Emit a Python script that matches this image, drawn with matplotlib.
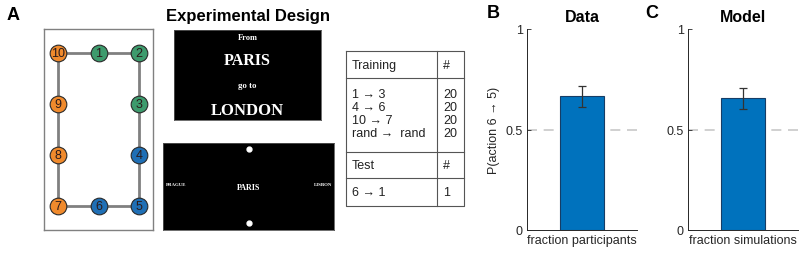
import matplotlib
matplotlib.use("Agg")
import matplotlib.pyplot as plt

plt.rcParams['font.family'] = ['Liberation Sans', 'DejaVu Sans']

# ---------------- data ----------------
node_ids = [1, 2, 3, 4, 5, 6, 7, 8, 9, 10]
node_groups = ['g', 'g', 'g', 'b', 'b', 'b', 'o', 'o', 'o', 'o']
# grid (column, row) of each state in the ring
node_cols = [1, 2, 2, 2, 2, 1, 0, 0, 0, 0]
node_rows = [0, 0, 1, 2, 3, 3, 3, 2, 1, 0]
ring_order = [10, 1, 2, 3, 4, 5, 6, 7, 8, 9, 10]

train_rows = ["1 \u2192 3", "4 \u2192 6", "10 \u2192 7", "rand \u2192  rand"]
train_counts = ["20", "20", "20", "20"]
test_rows = ["6 \u2192 1"]
test_counts = ["1"]

bar_titles = ["Data", "Model"]
bar_labels = ["fraction participants", "fraction simulations"]
bar_values = [0.667, 0.657]
err_low = [0.612, 0.602]
err_high = [0.716, 0.706]
chance = 0.5
yticks = [0, 0.5, 1]
ytick_labels = ["0", "0.5", "1"]

group_colors = {'g': '#3d9b6d', 'b': '#1f6fb5', 'o': '#f08a2c'}

W, H = 800, 255
fig = plt.figure(figsize=(W / 100, H / 100), dpi=100)


def px_axes(x0, y0, x1, y1):
    return fig.add_axes([x0 / W, 1 - y1 / H, (x1 - x0) / W, (y1 - y0) / H])


# ---------------- panel A: graph ----------------
axg = px_axes(44, 30, 153, 231)
axg.set_xlim(-0.35, 2.35)
axg.set_ylim(3.47, -0.47)
axg.set_xticks([])
axg.set_yticks([])
for s in axg.spines.values():
    s.set_color('#808080')
    s.set_linewidth(1.0)
pos = {n: (c, r) for n, c, r in zip(node_ids, node_cols, node_rows)}
axg.plot([pos[n][0] for n in ring_order], [pos[n][1] for n in ring_order],
         color='#808080', lw=2.0, zorder=1)
for n, g in zip(node_ids, node_groups):
    x, y = pos[n]
    axg.plot(x, y, 'o', ms=12, mfc=group_colors[g], mec='#2a2a2a', mew=0.8, zorder=2)
    axg.text(x, y, str(n), ha='center', va='center', fontsize=9,
             color='#2a1a1a', zorder=3)

fig.text(7 / W, 1 - 15 / H, "A", fontsize=13, fontweight='bold', va='center', ha='left')
fig.text(248 / W, 1 - 17 / H, "Experimental Design", fontsize=12,
         fontweight='bold', ha='center', va='center')

# ---------------- screens ----------------
serif = ['Liberation Serif', 'DejaVu Serif']
ax1 = px_axes(174, 31, 321, 121)
ax1.set_facecolor('black')
ax1.set_xticks([]); ax1.set_yticks([])
for s in ax1.spines.values():
    s.set_color('#555555'); s.set_linewidth(0.6)
ax1.text(0.5, 0.925, "From", color='white', family=serif, fontweight='bold',
         fontsize=6, ha='center', va='center', transform=ax1.transAxes)
ax1.text(0.5, 0.665, "PARIS", color='white', family=serif, fontweight='bold',
         fontsize=11.5, ha='center', va='center', transform=ax1.transAxes)
ax1.text(0.5, 0.385, "go to", color='white', family=serif, fontweight='bold',
         fontsize=6.3, ha='center', va='center', transform=ax1.transAxes)
ax1.text(0.5, 0.115, "LONDON", color='white', family=serif, fontweight='bold',
         fontsize=12, ha='center', va='center', transform=ax1.transAxes)

ax2 = px_axes(163, 144, 334, 231)
ax2.set_facecolor('black')
ax2.set_xlim(0, 1); ax2.set_ylim(0, 1)
ax2.set_xticks([]); ax2.set_yticks([])
for s in ax2.spines.values():
    s.set_color('#555555'); s.set_linewidth(0.6)
ax2.plot([0.5, 0.5], [0.93, 0.08], 'o', color='white', ms=3.5, ls='none')
ax2.text(0.5, 0.5, "PARIS", color='white', family=serif, fontweight='bold',
         fontsize=5.8, ha='center', va='center')
ax2.text(0.015, 0.53, "PRAGUE", color='white', family=serif, fontweight='bold',
         fontsize=3.5, ha='left', va='center')
ax2.text(0.99, 0.53, "LISBON", color='white', family=serif, fontweight='bold',
         fontsize=3.5, ha='right', va='center')

# ---------------- table ----------------
axt = px_axes(346, 52, 465, 208)
axt.set_xlim(346, 465)
axt.set_ylim(208, 52)
axt.axis('off')
lc = '#555555'
axt.plot([346, 464, 464, 346, 346], [52, 52, 207, 207, 52], color=lc, lw=0.8,
         clip_on=False)
axt.plot([437, 437], [52, 207], color=lc, lw=0.8, clip_on=False)
for yy in [79, 153, 179]:
    axt.plot([346, 464], [yy, yy], color=lc, lw=0.8, clip_on=False)
tfs = 9
axt.text(352, 66, "Training", fontsize=tfs, va='center', ha='left', color='#222')
axt.text(443, 66, "#", fontsize=tfs, va='center', ha='left', color='#222')
for i, (r, c) in enumerate(zip(train_rows, train_counts)):
    yy = 95 + i * 13
    axt.text(352, yy, r, fontsize=tfs, va='center', ha='left', color='#222')
    axt.text(443, yy, c, fontsize=tfs, va='center', ha='left', color='#222')
axt.text(352, 166, "Test", fontsize=tfs, va='center', ha='left', color='#222')
axt.text(443, 166, "#", fontsize=tfs, va='center', ha='left', color='#222')
for i, (r, c) in enumerate(zip(test_rows, test_counts)):
    yy = 193 + i * 13
    axt.text(352, yy, r, fontsize=tfs, va='center', ha='left', color='#222')
    axt.text(443, yy, c, fontsize=tfs, va='center', ha='left', color='#222')

# ---------------- panels B, C: bars ----------------
bar_rects = [(527, 30, 637, 231), (688, 30, 798, 231)]
letters = ["B", "C"]
letter_x = [487, 645]
for k in range(2):
    ax = px_axes(*bar_rects[k])
    ax.bar([1], [bar_values[k]], width=0.4, color='#0072BD', edgecolor='#163d66',
           lw=0.8, zorder=2)
    ax.errorbar([1], [bar_values[k]],
                yerr=[[bar_values[k] - err_low[k]], [err_high[k] - bar_values[k]]],
                fmt='none', ecolor='#333333', elinewidth=0.9, capsize=3,
                capthick=0.9, zorder=3)
    ax.axhline(chance, color='#c8c8c8', lw=1.2, ls=(0, (6, 4)), zorder=1)
    ax.set_xlim(0.5, 1.5)
    ax.set_ylim(0, 1)
    ax.set_yticks(yticks)
    ax.set_yticklabels(ytick_labels)
    ax.set_xticks([1])
    ax.set_xticklabels([bar_labels[k]])
    ax.tick_params(axis='y', direction='in', length=3, width=0.6, colors='#262626',
                   labelsize=9, pad=3)
    ax.tick_params(axis='x', length=0, labelsize=9, colors='#262626', pad=3)
    for s in ['top', 'right']:
        ax.spines[s].set_visible(False)
    for s in ['left', 'bottom']:
        ax.spines[s].set_color('#262626')
        ax.spines[s].set_linewidth(0.7)
    ax.set_title(bar_titles[k], fontsize=11.5, fontweight='bold', pad=6)
    if k == 0:
        ax.set_ylabel("P(action 6 \u2192 5)", fontsize=9, color='#262626', labelpad=4)
    fig.text(letter_x[k] / W, 1 - 13 / H, letters[k], fontsize=13,
             fontweight='bold', va='center', ha='left')

fig.savefig("out.png", dpi=100)
